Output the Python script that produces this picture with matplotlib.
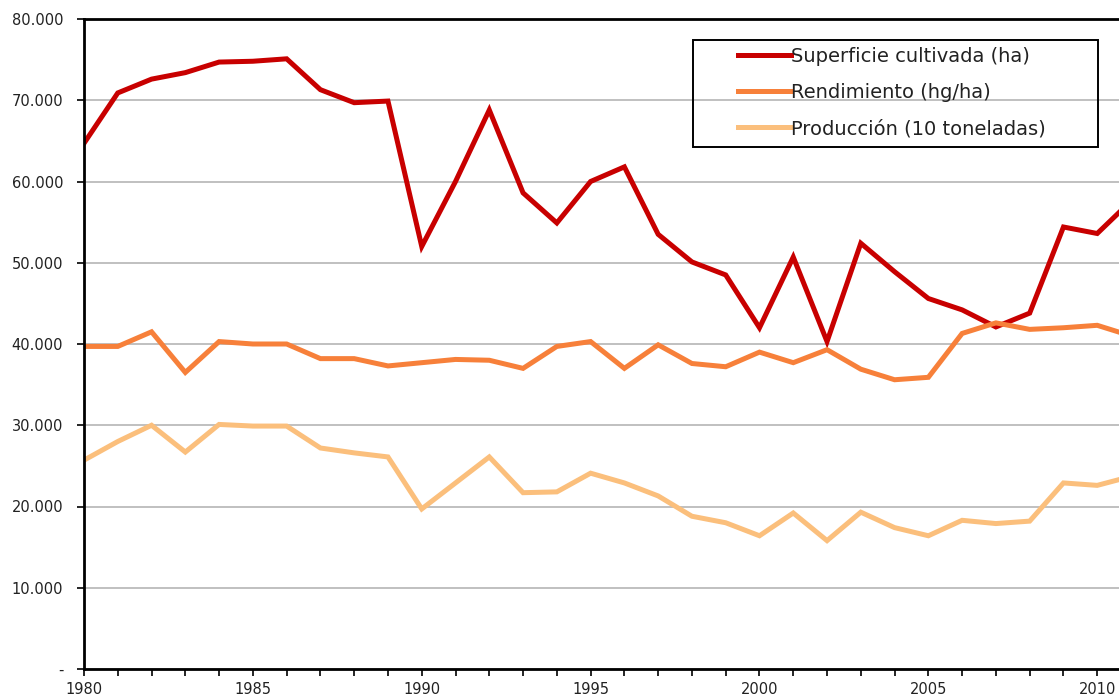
import matplotlib.pyplot as plt
from matplotlib.patches import Rectangle
from matplotlib.ticker import FixedLocator, MultipleLocator

# datos
years = list(range(1980, 2012))
superficie = [64700, 70900, 72600, 73400, 74700, 74800, 75100, 71300, 69700, 69900,
              52000, 60000, 68800, 58600, 54900, 60000, 61800, 53500, 50100, 48500,
              42000, 50700, 40300, 52400, 48900, 45600, 44200, 42100, 43800, 54400,
              53600, 57600]
rendimiento = [39700, 39700, 41500, 36500, 40300, 40000, 40000, 38200, 38200, 37300,
               37700, 38100, 38000, 37000, 39700, 40300, 37000, 39900, 37600, 37200,
               39000, 37700, 39300, 36900, 35600, 35900, 41300, 42600, 41800, 42000,
               42300, 41000]
produccion = [25700, 28000, 30000, 26700, 30100, 29900, 29900, 27200, 26600, 26100,
              19700, 22900, 26100, 21700, 21800, 24100, 22900, 21300, 18800, 18000,
              16400, 19200, 15800, 19300, 17400, 16400, 18300, 17900, 18200, 22900,
              22600, 23700]
labels = ['Superficie cultivada (ha)', 'Rendimiento (hg/ha)', 'Producción (10 toneladas)']
colors = ['#C80000', '#F7803A', '#FBBF7C']

W, H = 1119, 695
fig = plt.figure(figsize=(W / 100, H / 100), dpi=100)
# el eje se sale por la derecha, como en la imagen recortada
ax = fig.add_axes([84 / W, (H - 669) / H, 1047 / W, 650 / H])

for serie, lab, col in zip([superficie, rendimiento, produccion], labels, colors):
    ax.plot(years, serie, color=col, lw=3.6, label=lab, solid_joinstyle='miter')

ax.set_xlim(1980, 2011)
ax.set_ylim(0, 80000)

yt = list(range(0, 80001, 10000))
ax.yaxis.set_major_locator(FixedLocator(yt))
ax.set_yticklabels(['-'] + ['{:,}'.format(v).replace(',', '.') for v in yt[1:]])
ax.xaxis.set_major_locator(MultipleLocator(5))
ax.xaxis.set_minor_locator(MultipleLocator(1))

ax.grid(axis='y', color='#c0c0c0', lw=1.4)
ax.set_axisbelow(True)
for s in ax.spines.values():
    s.set_color('black')
    s.set_linewidth(2)

ax.tick_params(axis='both', which='both', direction='out', length=5, width=1.2,
               colors='black', labelcolor='#222222', labelsize=10.5)
ax.tick_params(axis='y', pad=10)
ax.tick_params(axis='x', pad=4)

leg = ax.legend(loc='upper left', bbox_to_anchor=(738 / W, 1 - 47 / H),
                bbox_transform=fig.transFigure, fontsize=14, frameon=False,
                handlelength=2.7, handletextpad=0.05,
                labelspacing=0.88, borderpad=0, borderaxespad=0)
for t in leg.get_texts():
    t.set_color('#222222')

# marco de la leyenda
fig.patches.append(Rectangle((693 / W, 1 - 147 / H), (1098 - 693) / W, 107 / H,
                             transform=fig.transFigure, fill=False,
                             edgecolor='black', lw=1.4, zorder=5))

fig.savefig('out.png', dpi=100)
